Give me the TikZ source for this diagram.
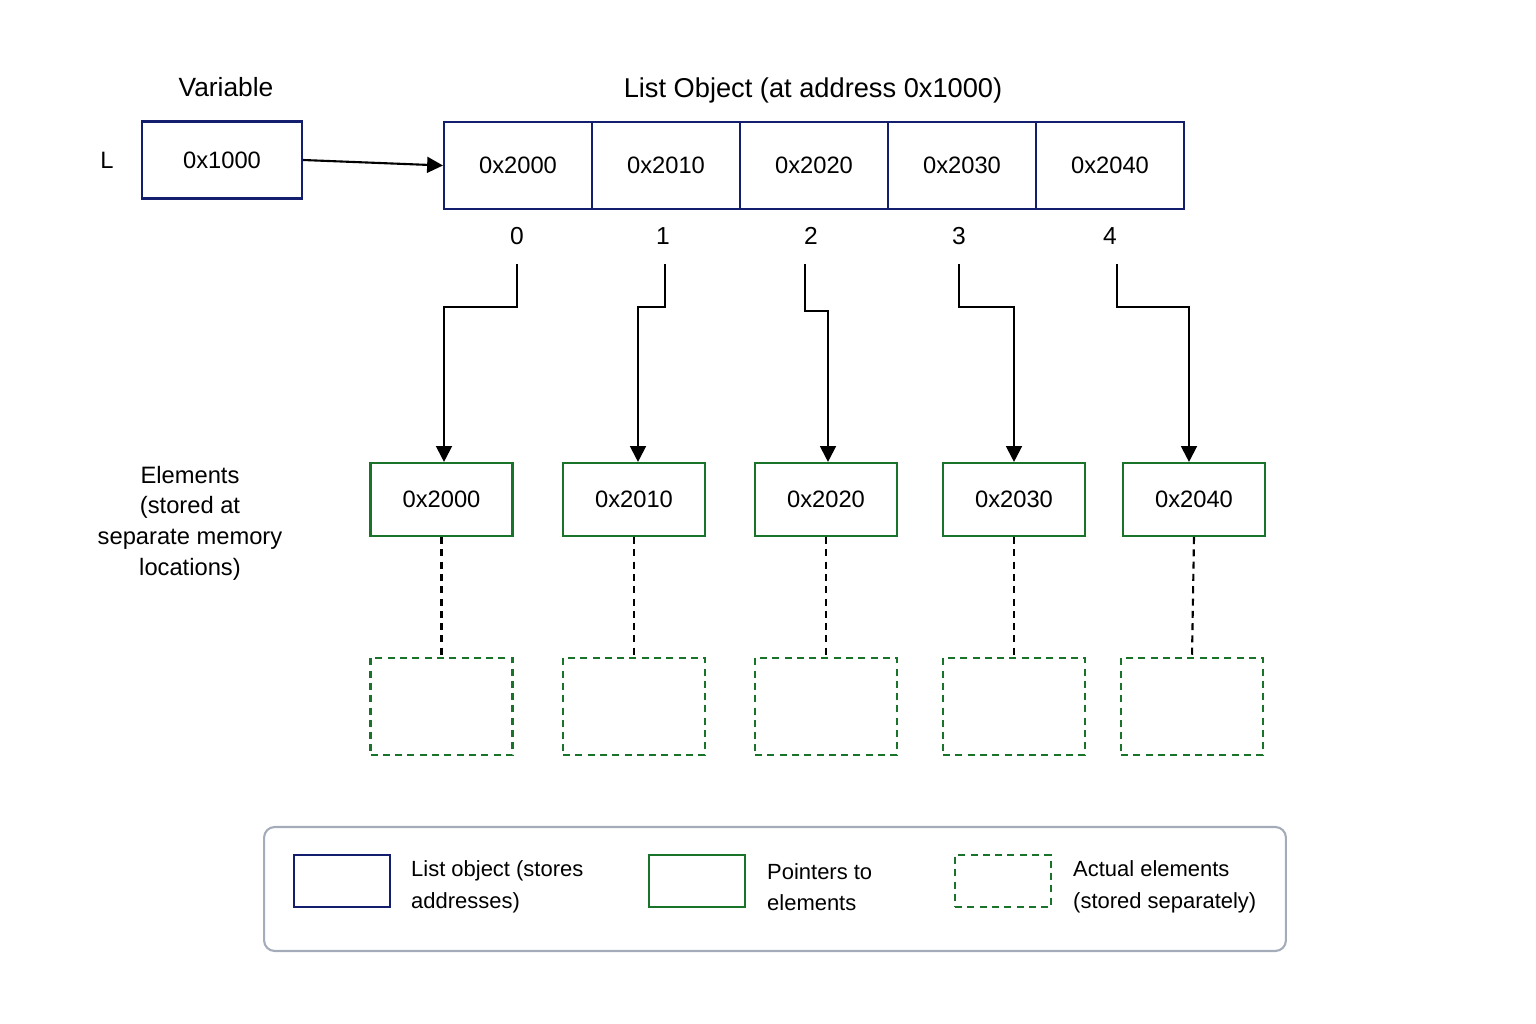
\documentclass[tikz,border=0pt]{standalone}
\usepackage{fontspec}
\setmainfont{Liberation Sans}
\usetikzlibrary{arrows.meta}
\definecolor{navy}{RGB}{20,30,110}
\definecolor{dgreen}{RGB}{25,115,40}
\definecolor{lgray}{RGB}{165,172,185}
\begin{document}
\begin{tikzpicture}[x=0.02cm,y=-0.02cm,
  every node/.style={font=\fontsize{13.5}{16}\selectfont},
  lbox/.style={draw=navy,line width=1.2pt,minimum width=2.96cm,minimum height=1.74cm,inner sep=0pt},
  gbox/.style={draw=dgreen,line width=1.2pt,minimum width=2.84cm,minimum height=1.46cm,inner sep=0pt},
  dbox/.style={draw=dgreen,line width=1.2pt,dash pattern=on 4pt off 3pt,minimum width=2.84cm,minimum height=1.94cm,inner sep=0pt},
  arr/.style={-{Triangle[length=9pt,width=9pt]},line width=1.2pt},
  dl/.style={line width=1.2pt,dash pattern=on 4pt off 3pt},
  leg/.style={align=left,anchor=west,font=\fontsize{12.5}{18}\selectfont}]
\useasboundingbox (0,0) rectangle (1536,1024);
\node (var) at (226,87) {\fontsize{15}{18}\selectfont Variable};
\node (L) at (107,160) {L};
\node[draw=navy,line width=1.2pt,minimum width=3.2cm,minimum height=1.54cm,inner sep=0pt] (v) at (222,160) {0x1000};
\node (title) at (813,90) {\fontsize{15.5}{18}\selectfont List Object (at address 0x1000)};
\foreach \i/\x/\t in {0/518/0x2000,1/666/0x2010,2/814/0x2020,3/962/0x2030,4/1110/0x2040}
  \node[lbox] (c\i) at (\x,165.5) {\t};
\draw[arr] (v.east) -- (c0.west);
\foreach \i/\x in {0/517,1/663,2/811,3/959,4/1110}
  \node (i\i) at (\x,236) {\fontsize{14}{16}\selectfont \i};
\foreach \i/\x/\t in {0/441.5/0x2000,1/634/0x2010,2/826/0x2020,3/1014/0x2030,4/1194/0x2040}{
  \node[gbox] (g\i) at (\x,499.5) {\t};
}
\foreach \i/\x in {0/441.5,1/634,2/826,3/1014,4/1192}
  \node[dbox] (d\i) at (\x,706.5) {};
\foreach \i in {0,...,4} \draw[dl] (g\i.south) -- (d\i.north);
\coordinate (a0) at (517,264); \coordinate (b0) at (444,307);
\coordinate (a1) at (665,264); \coordinate (b1) at (638,307);
\coordinate (a2) at (805,264); \coordinate (b2) at (828,311);
\coordinate (a3) at (959,264); \coordinate (b3) at (1014,307);
\coordinate (a4) at (1117,264); \coordinate (b4) at (1189,307);
\foreach \i in {0,...,4}
  \draw[arr] (a\i) |- (b\i) -- (b\i |- g\i.north) ;
\node[align=center,font=\fontsize{13.5}{17.5}\selectfont] (el) at (190,523) {Elements\\(stored at\\separate memory\\locations)};
\node[draw=lgray,line width=1.2pt,rounded corners=6pt,minimum width=20.44cm,minimum height=2.48cm] (legend) at (775,889) {};
\node[draw=navy,line width=1.2pt,minimum width=1.92cm,minimum height=1.04cm] (s1) at (342,881) {};
\node[draw=dgreen,line width=1.2pt,minimum width=1.92cm,minimum height=1.04cm] (s2) at (697,881) {};
\node[draw=dgreen,line width=1.2pt,dash pattern=on 4pt off 3pt,minimum width=1.92cm,minimum height=1.04cm] (s3) at (1003,881) {};
\node[leg] (t1) at (405,887) {List object (stores\\addresses)};
\node[leg] (t2) at (761,887) {Pointers to\\elements};
\node[leg] (t3) at (1067,887) {Actual elements\\(stored separately)};
\end{tikzpicture}
\end{document}
